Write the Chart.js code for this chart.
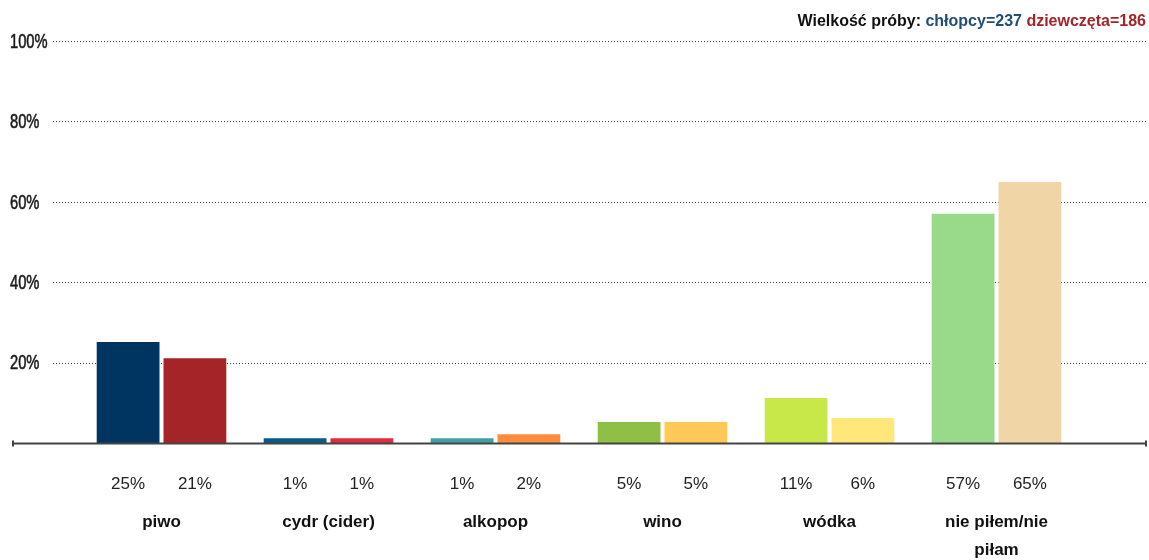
<!DOCTYPE html>
<html>
<head>
<meta charset="utf-8">
<script src="https://cdn.jsdelivr.net/npm/chart.js@4/dist/chart.umd.min.js"></script>
<style>
  html, body { margin: 0; padding: 0; background: #fff; }
  #wrap { width: 1149px; height: 560px; position: relative; }
</style>
</head>
<body>
<div id="wrap"><canvas id="c" width="1149" height="560"></canvas></div>
<script>
// ---- data ----
const categories = ['piwo', 'cydr (cider)', 'alkopop', 'wino', 'wódka', ['nie piłem/nie', 'piłam']];
const boysValues  = [25.1, 1.2, 1.2, 5.2, 11.2, 57.0];
const girlsValues = [21.1, 1.2, 2.2, 5.2, 6.2, 64.9];
const boysColors  = ['#003461', '#065a8c', '#40a0a4', '#8fbf45', '#c8e84a', '#98da8a'];
const girlsColors = ['#a52428', '#e62a3c', '#ff8c3c', '#ffc857', '#ffe77a', '#f0d6a6'];
const yTicks = [0, 20, 40, 60, 80, 100];
const boysN = 237;
const girlsN = 186;
const titleParts = [
  { text: 'Wielkość próby: ', color: '#111111' },
  { text: 'chłopcy=' + boysN + ' ', color: '#1f4e79' },
  { text: 'dziewczęta=' + girlsN, color: '#a52428' }
];

const FONT = '"Liberation Sans", Arial, sans-serif';

const decor = {
  id: 'decor',
  beforeDatasetsDraw(chart) {
    const ctx = chart.ctx;
    const y = chart.scales.y;
    ctx.save();
    // dotted gridlines
    ctx.strokeStyle = '#444';
    ctx.lineWidth = 1;
    ctx.setLineDash([1, 2]);
    yTicks.forEach(v => {
      if (v === 0) return;
      const py = Math.round(y.getPixelForValue(v)) + 0.5;
      ctx.beginPath();
      ctx.moveTo(53, py);
      ctx.lineTo(1146, py);
      ctx.stroke();
    });
    ctx.setLineDash([]);
    ctx.restore();
    // y tick labels (condensed)
    ctx.save();
    ctx.fillStyle = '#1a1a1a';
    ctx.font = '21px ' + FONT;
    ctx.textAlign = 'left';
    ctx.textBaseline = 'middle';
    ctx.lineWidth = 0.6;
    ctx.strokeStyle = '#1a1a1a';
    ctx.scale(0.7, 1);
    yTicks.forEach(v => {
      if (v === 0) return;
      const tx = 10 / 0.7, ty = y.getPixelForValue(v) + 1;
      ctx.fillText(v + '%', tx, ty);
      ctx.strokeText(v + '%', tx, ty);
    });
    ctx.restore();
  },
  afterDatasetsDraw(chart) {
    const ctx = chart.ctx;
    const y = chart.scales.y;
    const py = Math.round(y.getPixelForValue(0)) + 0.5;
    ctx.save();
    // baseline
    ctx.strokeStyle = '#444';
    ctx.lineWidth = 2;
    ctx.beginPath();
    ctx.moveTo(12, py);
    ctx.lineTo(1146, py);
    ctx.stroke();
    ctx.beginPath();
    ctx.moveTo(13, py - 3); ctx.lineTo(13, py + 3);
    ctx.moveTo(1146, py - 3); ctx.lineTo(1146, py + 3);
    ctx.stroke();
    // value labels under bars
    ctx.fillStyle = '#222';
    ctx.font = '17px ' + FONT;
    ctx.textAlign = 'center';
    ctx.textBaseline = 'middle';
    chart.data.datasets.forEach((ds, di) => {
      const meta = chart.getDatasetMeta(di);
      meta.data.forEach((bar, i) => {
        ctx.fillText(Math.round(ds.data[i]) + '%', bar.x, 484);
      });
    });
    // title
    ctx.font = 'bold 16px ' + FONT;
    ctx.textAlign = 'left';
    let total = 0;
    titleParts.forEach(p => total += ctx.measureText(p.text).width);
    let x = 1146 - total;
    titleParts.forEach(p => {
      ctx.fillStyle = p.color;
      ctx.fillText(p.text, x, 22);
      x += ctx.measureText(p.text).width;
    });
    ctx.restore();
  }
};

new Chart(document.getElementById('c'), {
  type: 'bar',
  data: {
    labels: categories,
    datasets: [
      { label: 'chłopcy', data: boysValues, backgroundColor: boysColors, borderWidth: 0 },
      { label: 'dziewczęta', data: girlsValues, backgroundColor: girlsColors, borderWidth: 0 }
    ]
  },
  options: {
    responsive: false,
    animation: false,
    devicePixelRatio: 1,
    categoryPercentage: 0.8,
    barPercentage: 0.94,
    layout: { padding: { left: 78, right: 69, top: 41, bottom: 0 } },
    plugins: { legend: { display: false }, tooltip: { enabled: false }, title: { display: false } },
    scales: {
      x: {
        grid: { display: false, drawTicks: false },
        border: { display: false },
        ticks: {
          color: '#111',
          font: { family: FONT, size: 17, weight: 'bold', lineHeight: 28 / 17 },
          padding: 65,
          maxRotation: 0,
          autoSkip: false
        },
        afterFit(scale) { scale.height = 117; }
      },
      y: {
        display: false,
        min: 0,
        max: 100,
        ticks: { stepSize: 20 }
      }
    }
  },
  plugins: [decor]
});
</script>
</body>
</html>
